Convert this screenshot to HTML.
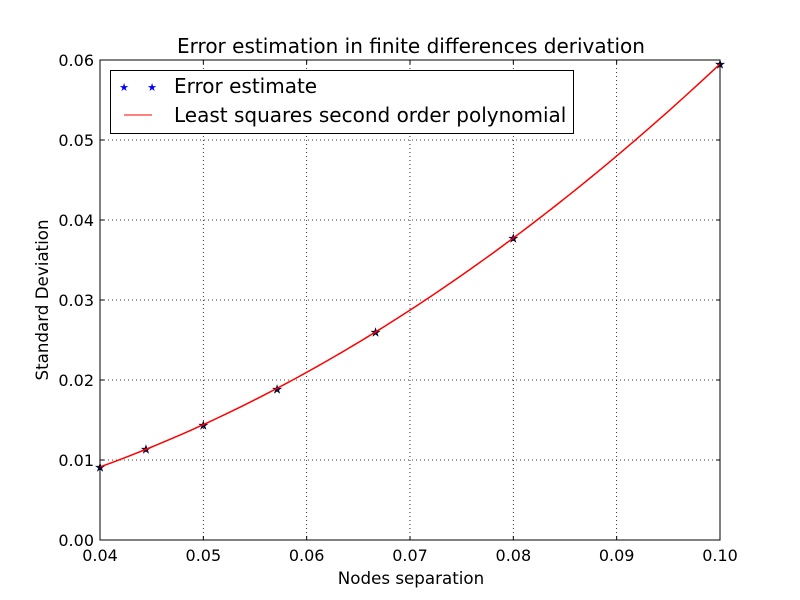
<!DOCTYPE html>
<html><head><meta charset="utf-8"><style>
body{margin:0;background:#fff}
svg{display:block;font-family:"DejaVu Sans","Liberation Sans",sans-serif}
</style></head><body>
<svg id="c" width="800" height="600" xmlns="http://www.w3.org/2000/svg">
<rect width="800" height="600" fill="#fff"/>
<g id="grid"></g>
<g id="ticks"></g>
<g id="plot"></g>
<rect x="100" y="60" width="620" height="480" fill="none" stroke="#000" stroke-width="1"/>
<text x="411" y="53" text-anchor="middle" font-size="20">Error estimation in finite differences derivation</text>
<text x="411" y="584" text-anchor="middle" font-size="16.7">Nodes separation</text>
<text transform="translate(48,300) rotate(-90)" text-anchor="middle" font-size="16.7">Standard Deviation</text>
<g>
<rect x="110.5" y="70.5" width="463" height="63" fill="#fff" stroke="#000"/>
<text x="124" y="91" font-size="11" fill="#0000ff" text-anchor="middle">★</text>
<text x="152" y="91" font-size="11" fill="#0000ff" text-anchor="middle">★</text>
<text x="174" y="93" font-size="20">Error estimate</text>
<line x1="124" y1="115" x2="152" y2="115" stroke="#ff0000"/>
<text x="174" y="122" font-size="20">Least squares second order polynomial</text>
</g>
</svg>
<script>
const xTicks=[0.04,0.05,0.06,0.07,0.08,0.09,0.10];
const xTickLabels=["0.04","0.05","0.06","0.07","0.08","0.09","0.10"];
const yTicks=[0,0.01,0.02,0.03,0.04,0.05,0.06];
const yTickLabels=["0.00","0.01","0.02","0.03","0.04","0.05","0.06"];
const xs=[0.04,0.04444,0.05,0.05714,0.06667,0.08,0.1];
const ys=[0.00913,0.0114,0.0144,0.0189,0.0260,0.03775,0.0595];
const fitCoef=[6.2,-0.0285,0.00035];
const NS="http://www.w3.org/2000/svg";
const X=v=>100+(v-0.04)/0.06*620, Y=v=>540-v/0.06*480;
function mk(t,a,p){const e=document.createElementNS(NS,t);for(const k in a)e.setAttribute(k,a[k]);p.appendChild(e);return e;}
const g=document.getElementById('grid'),tk=document.getElementById('ticks'),pl=document.getElementById('plot');
xTicks.forEach((v,i)=>{const x=X(v);
 const l=mk('line',{x1:x,y1:60,x2:x,y2:540,stroke:'#000','stroke-dasharray':'1,3','stroke-width':0.8},g);
 
 const t=mk('text',{x:x,y:561,'text-anchor':'middle','font-size':16},tk);t.textContent=xTickLabels[i];
 
 const a=mk('line',{x1:x,y1:540,x2:x,y2:536,stroke:'#000'},tk);
 const b=mk('line',{x1:x,y1:60,x2:x,y2:64,stroke:'#000'},tk);});
yTicks.forEach((v,i)=>{const y=Y(v);
 const l=mk('line',{x1:100,y1:y,x2:720,y2:y,stroke:'#000','stroke-dasharray':'1,3','stroke-width':0.8},g);
 
 const t=mk('text',{x:94,y:y+6,'text-anchor':'end','font-size':16},tk);t.textContent=yTickLabels[i];
 
 const a=mk('line',{x1:100,y1:y,x2:104,y2:y,stroke:'#000'},tk);
 const b=mk('line',{x1:716,y1:y,x2:720,y2:y,stroke:'#000'},tk);});
xs.forEach((v,i)=>{const t=mk('text',{x:X(v),y:Y(ys[i])+4,'text-anchor':'middle','font-size':11,fill:'#000066',stroke:'#000','stroke-width':0.5},pl);
 t.textContent='★';});
let d='';const x0=xs[0],x1=xs[xs.length-1];
for(let i=0;i<=100;i++){const v=x0+(x1-x0)*i/100;const f=fitCoef[0]*v*v+fitCoef[1]*v+fitCoef[2];d+=(i?'L':'M')+X(v).toFixed(2)+','+Y(f).toFixed(2);}
const p=mk('path',{d:d,fill:'none',stroke:'#ff0000','stroke-width':1.5},pl);

</script>
</body></html>
